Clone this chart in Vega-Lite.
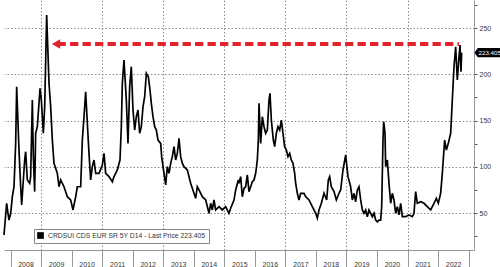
{
  "$schema": "https://vega.github.io/schema/vega-lite/v6.json",
  "width": 470,
  "height": 250,
  "autosize": {"type": "pad"},
  "padding": 0,
  "background": "white",
  "config": {
    "view": {"stroke": null},
    "font": "Liberation Sans",
    "axis": {"labelFont": "Liberation Sans", "titleFont": "Liberation Sans"},
    "legend": {"labelFont": "Liberation Sans"}
  },
  "datasets": {
    "cds": [
      {"t":2007.787,"v":26.2},{"t":2007.874,"v":60.5},{"t":2007.918,"v":49.7},{"t":2007.951,"v":42.4},
      {"t":2008.006,"v":49.7},{"t":2008.060,"v":67.6},{"t":2008.115,"v":78.4},{"t":2008.169,"v":125.3},
      {"t":2008.202,"v":186.6},{"t":2008.278,"v":118.1},{"t":2008.333,"v":78.4},{"t":2008.366,"v":58.7},
      {"t":2008.464,"v":107.3},{"t":2008.497,"v":116.3},{"t":2008.551,"v":85.7},{"t":2008.628,"v":82.1},
      {"t":2008.660,"v":89.3},{"t":2008.715,"v":172.2},{"t":2008.748,"v":110.9},{"t":2008.791,"v":73.1},
      {"t":2008.824,"v":136.2},{"t":2008.878,"v":143.3},{"t":2008.933,"v":168.6},{"t":2008.966,"v":184.8},
      {"t":2009.010,"v":172.2},{"t":2009.075,"v":136.2},{"t":2009.119,"v":164.9},{"t":2009.184,"v":264.1},
      {"t":2009.261,"v":190.2},{"t":2009.315,"v":164.9},{"t":2009.370,"v":128.9},{"t":2009.424,"v":103.7},
      {"t":2009.533,"v":92.9},{"t":2009.588,"v":78.4},{"t":2009.643,"v":85.7},{"t":2009.752,"v":78.4},
      {"t":2009.861,"v":67.6},{"t":2009.970,"v":64.1},{"t":2010.047,"v":53.3},{"t":2010.134,"v":67.6},
      {"t":2010.188,"v":78.4},{"t":2010.298,"v":78.4},{"t":2010.352,"v":128.9},{"t":2010.407,"v":154.1},
      {"t":2010.461,"v":181.1},{"t":2010.516,"v":147.0},{"t":2010.570,"v":114.5},{"t":2010.625,"v":85.7},
      {"t":2010.679,"v":100.1},{"t":2010.734,"v":107.3},{"t":2010.789,"v":92.9},{"t":2010.898,"v":92.9},
      {"t":2011.007,"v":101.9},{"t":2011.062,"v":114.5},{"t":2011.116,"v":92.9},{"t":2011.225,"v":89.3},
      {"t":2011.334,"v":83.8},{"t":2011.389,"v":89.3},{"t":2011.498,"v":96.5},{"t":2011.585,"v":107.3},
      {"t":2011.629,"v":143.3},{"t":2011.662,"v":190.2},{"t":2011.716,"v":215.4},{"t":2011.793,"v":172.2},
      {"t":2011.847,"v":125.3},{"t":2011.902,"v":186.6},{"t":2011.956,"v":208.2},{"t":2012.011,"v":161.4},
      {"t":2012.066,"v":139.7},{"t":2012.120,"v":154.1},{"t":2012.175,"v":161.4},{"t":2012.229,"v":136.2},
      {"t":2012.284,"v":143.3},{"t":2012.339,"v":164.9},{"t":2012.393,"v":175.7},{"t":2012.448,"v":201.0},
      {"t":2012.513,"v":197.4},{"t":2012.568,"v":183.0},{"t":2012.611,"v":168.6},{"t":2012.666,"v":154.1},
      {"t":2012.721,"v":143.3},{"t":2012.775,"v":139.7},{"t":2012.830,"v":128.9},{"t":2012.917,"v":125.3},
      {"t":2012.950,"v":110.9},{"t":2013.026,"v":92.9},{"t":2013.081,"v":80.3},{"t":2013.135,"v":100.1},
      {"t":2013.190,"v":92.9},{"t":2013.245,"v":103.7},{"t":2013.299,"v":110.9},{"t":2013.354,"v":121.7},
      {"t":2013.408,"v":107.3},{"t":2013.463,"v":114.5},{"t":2013.517,"v":130.8},{"t":2013.572,"v":110.9},
      {"t":2013.627,"v":103.7},{"t":2013.681,"v":100.1},{"t":2013.790,"v":96.5},{"t":2013.845,"v":89.3},
      {"t":2013.899,"v":82.1},{"t":2014.008,"v":71.3},{"t":2014.063,"v":65.9},{"t":2014.117,"v":78.4},
      {"t":2014.172,"v":74.9},{"t":2014.281,"v":67.6},{"t":2014.391,"v":64.1},{"t":2014.500,"v":49.7},
      {"t":2014.554,"v":60.5},{"t":2014.609,"v":53.3},{"t":2014.663,"v":64.1},{"t":2014.718,"v":53.3},
      {"t":2014.827,"v":56.8},{"t":2014.936,"v":53.3},{"t":2015.045,"v":56.8},{"t":2015.154,"v":49.7},
      {"t":2015.209,"v":55.1},{"t":2015.318,"v":64.1},{"t":2015.373,"v":74.9},{"t":2015.460,"v":85.7},
      {"t":2015.482,"v":82.1},{"t":2015.537,"v":89.3},{"t":2015.591,"v":67.6},{"t":2015.646,"v":76.7},
      {"t":2015.700,"v":78.4},{"t":2015.755,"v":91.1},{"t":2015.809,"v":73.1},{"t":2015.864,"v":78.4},
      {"t":2015.918,"v":83.8},{"t":2015.973,"v":85.7},{"t":2016.028,"v":92.9},{"t":2016.082,"v":107.3},
      {"t":2016.115,"v":128.9},{"t":2016.137,"v":168.6},{"t":2016.191,"v":125.3},{"t":2016.246,"v":154.1},
      {"t":2016.301,"v":143.3},{"t":2016.355,"v":136.2},{"t":2016.410,"v":139.7},{"t":2016.464,"v":172.2},
      {"t":2016.497,"v":179.4},{"t":2016.541,"v":150.5},{"t":2016.606,"v":128.9},{"t":2016.650,"v":121.7},
      {"t":2016.705,"v":136.2},{"t":2016.759,"v":143.3},{"t":2016.814,"v":139.7},{"t":2016.868,"v":150.5},
      {"t":2016.923,"v":136.2},{"t":2016.977,"v":121.7},{"t":2017.032,"v":118.1},{"t":2017.087,"v":110.9},
      {"t":2017.141,"v":114.5},{"t":2017.196,"v":107.3},{"t":2017.250,"v":103.7},{"t":2017.305,"v":92.9},
      {"t":2017.338,"v":82.1},{"t":2017.392,"v":71.3},{"t":2017.447,"v":64.1},{"t":2017.501,"v":71.3},
      {"t":2017.610,"v":71.3},{"t":2017.665,"v":67.6},{"t":2017.774,"v":64.1},{"t":2017.883,"v":56.8},
      {"t":2017.993,"v":49.7},{"t":2018.047,"v":44.3},{"t":2018.102,"v":53.3},{"t":2018.178,"v":60.5},
      {"t":2018.265,"v":71.3},{"t":2018.353,"v":64.1},{"t":2018.407,"v":85.7},{"t":2018.451,"v":89.3},
      {"t":2018.505,"v":78.4},{"t":2018.593,"v":73.1},{"t":2018.669,"v":64.1},{"t":2018.756,"v":71.3},
      {"t":2018.811,"v":74.9},{"t":2018.887,"v":96.5},{"t":2018.975,"v":112.7},{"t":2019.051,"v":89.3},
      {"t":2019.138,"v":78.4},{"t":2019.193,"v":64.1},{"t":2019.247,"v":71.3},{"t":2019.302,"v":62.2},
      {"t":2019.357,"v":74.9},{"t":2019.411,"v":78.4},{"t":2019.466,"v":64.1},{"t":2019.521,"v":53.3},
      {"t":2019.575,"v":49.7},{"t":2019.630,"v":53.3},{"t":2019.684,"v":46.0},{"t":2019.739,"v":53.3},
      {"t":2019.793,"v":49.7},{"t":2019.848,"v":46.0},{"t":2019.903,"v":49.7},{"t":2019.957,"v":42.4},
      {"t":2020.012,"v":40.6},{"t":2020.066,"v":42.4},{"t":2020.121,"v":42.4},{"t":2020.154,"v":56.8},
      {"t":2020.197,"v":128.9},{"t":2020.219,"v":148.7},{"t":2020.263,"v":136.2},{"t":2020.284,"v":100.1},
      {"t":2020.339,"v":107.3},{"t":2020.394,"v":82.1},{"t":2020.448,"v":60.5},{"t":2020.503,"v":71.3},
      {"t":2020.557,"v":64.1},{"t":2020.612,"v":49.7},{"t":2020.667,"v":56.8},{"t":2020.721,"v":47.9},
      {"t":2020.776,"v":60.5},{"t":2020.830,"v":46.0},{"t":2020.939,"v":46.0},{"t":2021.049,"v":47.9},
      {"t":2021.158,"v":46.0},{"t":2021.212,"v":49.7},{"t":2021.267,"v":73.1},{"t":2021.321,"v":60.5},
      {"t":2021.431,"v":62.2},{"t":2021.540,"v":60.5},{"t":2021.649,"v":56.8},{"t":2021.758,"v":53.3},
      {"t":2021.867,"v":60.5},{"t":2021.943,"v":65.9},{"t":2022.009,"v":60.5},{"t":2022.085,"v":71.3},
      {"t":2022.140,"v":92.9},{"t":2022.216,"v":128.9},{"t":2022.271,"v":118.1},{"t":2022.336,"v":125.3},
      {"t":2022.413,"v":136.2},{"t":2022.467,"v":172.2},{"t":2022.522,"v":208.2},{"t":2022.577,"v":229.8},
      {"t":2022.631,"v":193.8},{"t":2022.686,"v":219.0},{"t":2022.719,"v":231.6},{"t":2022.751,"v":202.8},
      {"t":2022.773,"v":223.405}
    ],
    "arrow": [{"t": 2009.54, "t2": 2022.686, "v": 232.7}],
    "head": [{"t": 2009.49, "v": 232.7}],
    "tag": [{"t": 2023.676, "v": 223.4, "label": "223.405"}]
  },
  "encoding": {
    "x": {
      "field": "t", "type": "quantitative",
      "scale": {"domain": [2007.787, 2023.177], "nice": false, "zero": false},
      "axis": {
        "title": null,
        "values": [2008,2009,2010,2011,2012,2013,2014,2015,2016,2017,2018,2019,2020,2021,2022,2023],
        "format": "d",
        "labelExpr": "datum.value < 2023 ? datum.label : ''",
        "labelAlign": "center",
        "labelOffset": 15,
        "labelFlush": false,
        "labelOverlap": false,
        "labelBound": false,
        "labelPadding": -8,
        "labelFontSize": 7,
        "labelColor": "#333333",
        "tickSize": 18,
        "tickColor": "#999999",
        "domainColor": "#999999",
        "grid": true,
        "gridColor": "#8a8a8a",
        "gridWidth": 1,
        "gridDash": [1.5, 2],
        "gridOpacity": {"condition": {"test": "datum.value % 2 == 0 || datum.value >= 2023", "value": 0}, "value": 1}
      }
    },
    "y": {
      "field": "v", "type": "quantitative",
      "scale": {"domain": [10, 280.3], "nice": false, "zero": false},
      "axis": {
        "title": null,
        "orient": "right",
        "values": [25,50,75,100,125,150,175,200,225,250,275],
        "labelExpr": "datum.value % 50 == 0 ? datum.label : ''",
        "labelOverlap": false,
        "tickSize": 3,
        "tickColor": "#555555",
        "domainColor": "#999999",
        "labelPadding": 2,
        "labelFontSize": 7,
        "labelColor": "#333333",
        "grid": true,
        "gridColor": "#8a8a8a",
        "gridWidth": 1,
        "gridDash": [1.5, 2],
        "gridOpacity": {"condition": {"test": "datum.value % 50 != 0", "value": 0}, "value": 1}
      }
    }
  },
  "layer": [
    {
      "data": {"name": "cds"},
      "mark": {"type": "line", "strokeWidth": 1.7},
      "encoding": {
        "color": {
          "datum": "CRDSUI CDS EUR SR 5Y D14 - Last Price 223.405",
          "type": "nominal",
          "scale": {"range": ["#000000"]},
          "legend": {
            "title": null,
            "orient": "none",
            "legendX": 30,
            "legendY": 229,
            "fillColor": "white",
            "strokeColor": "#888888",
            "padding": 3,
            "symbolType": "square",
            "symbolSize": 45,
            "symbolFillColor": "#000000",
            "symbolStrokeWidth": 0,
            "labelFontSize": 6.8,
            "labelColor": "#333333",
            "labelLimit": 300
          }
        }
      }
    },
    {
      "data": {"name": "arrow"},
      "mark": {"type": "rule", "color": "#e3232b", "strokeWidth": 4, "strokeDash": [8.3, 4.2]},
      "encoding": {"x2": {"field": "t2"}}
    },
    {
      "data": {"name": "head"},
      "mark": {"type": "point", "shape": "triangle-left", "filled": true, "color": "#e3232b", "opacity": 1, "size": 90}
    },
    {
      "data": {"name": "tag"},
      "mark": {"type": "point", "shape": "M -1 0 L -0.78 -0.31 L 1 -0.31 L 1 0.31 L -0.78 0.31 Z", "filled": true, "color": "#000000", "opacity": 1, "size": 870, "clip": false}
    },
    {
      "data": {"name": "tag"},
      "mark": {"type": "text", "color": "white", "fontSize": 6.2, "align": "center", "baseline": "middle", "dx": 0.5, "clip": false},
      "encoding": {"text": {"field": "label"}}
    }
  ]
}
